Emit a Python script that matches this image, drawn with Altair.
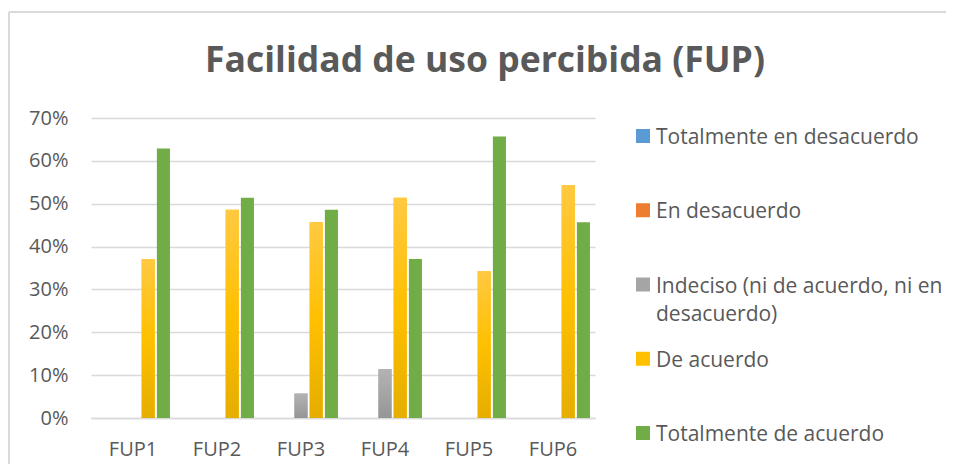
import altair as alt
import pandas as pd

categories = ["FUP1", "FUP2", "FUP3", "FUP4", "FUP5", "FUP6"]
series = [
    "Totalmente en desacuerdo",
    "En desacuerdo",
    "Indeciso (ni de acuerdo, ni en desacuerdo)",
    "De acuerdo",
    "Totalmente de acuerdo",
]
legend_labels = [
    "Totalmente en desacuerdo",
    "En desacuerdo",
    "Indeciso (ni de acuerdo, ni en\ndesacuerdo)",
    "De acuerdo",
    "Totalmente de acuerdo",
]
totalmente_desacuerdo = [0, 0, 0, 0, 0, 0]
en_desacuerdo = [0, 0, 0, 0, 0, 0]
indeciso = [0, 0, 0.057, 0.114, 0, 0]
de_acuerdo = [0.371, 0.486, 0.457, 0.514, 0.343, 0.543]
totalmente_acuerdo = [0.629, 0.514, 0.486, 0.371, 0.657, 0.457]
colors = ["#5B9BD5", "#ED7D31", "#A5A5A5", "#FFC000", "#70AD47"]
y_ticks = [0, 0.1, 0.2, 0.3, 0.4, 0.5, 0.6, 0.7]

vals = [totalmente_desacuerdo, en_desacuerdo, indeciso, de_acuerdo, totalmente_acuerdo]
rows = []
for s, v in zip(series, vals):
    for c, x in zip(categories, v):
        rows.append({"cat": c, "serie": s, "valor": x})
df = pd.DataFrame(rows)
leg_df = pd.DataFrame({"serie": series, "label": legend_labels})

FONT = "Open Sans"
TXT = "#595959"
GRID = "#D9D9D9"

color_scale = alt.Scale(domain=series, range=colors)

x_enc = alt.X("cat:N", sort=categories, title=None,
              scale=alt.Scale(paddingInner=0.12, paddingOuter=0.06),
              axis=alt.Axis(labelAngle=0, labelFont=FONT, labelFontSize=20, labelColor=TXT,
                            ticks=False, domain=True, domainColor=GRID, domainWidth=1.5,
                            labelPadding=21, grid=False))
xo_enc = alt.XOffset("serie:N", sort=series, scale=alt.Scale(paddingInner=0.14))
y_enc = alt.Y("valor:Q", title=None,
              scale=alt.Scale(domain=[0, 0.7], nice=False),
              axis=alt.Axis(values=y_ticks, format=".0%", labelFont=FONT, labelFontSize=20,
                            labelColor=TXT, ticks=False, domain=False, gridColor=GRID,
                            gridWidth=1.5, labelPadding=23))

base = alt.Chart(df).mark_bar().encode(
    x=x_enc, xOffset=xo_enc, y=y_enc,
    color=alt.Color("serie:N", sort=series, scale=color_scale, legend=None),
)

def grad(top, mid, bottom):
    return alt.LinearGradient(gradient="linear", x1=0, y1=0, x2=0, y2=1,
                              stops=[alt.GradientStop(color=top, offset=0),
                                     alt.GradientStop(color=mid, offset=0.5),
                                     alt.GradientStop(color=bottom, offset=1)])

yellow = alt.Chart(df).transform_filter(alt.datum.serie == series[3]).mark_bar(
    color=grad("#FFC942", "#FFC000", "#E5AD00")).encode(x=x_enc, xOffset=xo_enc, y=y_enc)
gray = alt.Chart(df).transform_filter(alt.datum.serie == series[2]).mark_bar(
    color=grad("#B3B3B3", "#A5A5A5", "#959595")).encode(x=x_enc, xOffset=xo_enc, y=y_enc)

bars = alt.layer(base, gray, yellow)

leg_y = alt.Y("serie:N", sort=series, axis=None,
              scale=alt.Scale(type="point", domain=series, range=[18, 315], padding=0))
leg_sq = alt.Chart(leg_df).mark_square(size=196, opacity=1).encode(
    x=alt.value(552), y=leg_y,
    color=alt.Color("serie:N", sort=series, scale=color_scale, legend=None))
leg_tx = alt.Chart(leg_df).mark_text(align="left", baseline="top", dy=-9, lineBreak="\n",
                                     lineHeight=28, font=FONT, fontSize=21, color=TXT).encode(
    x=alt.value(565), y=leg_y, text="label:N")
legend = alt.layer(leg_sq, leg_tx)

frame_top = alt.Chart(df).mark_rule(color=GRID, strokeWidth=1.5).encode(
    x=alt.value(-82), x2=alt.value(900), y=alt.value(-106))
frame_left = alt.Chart(df).mark_rule(color=GRID, strokeWidth=1.5).encode(
    x=alt.value(-82), y=alt.value(-106), y2=alt.value(400))

chart = alt.layer(bars, legend, frame_top, frame_left).resolve_scale(y="independent").properties(
    width=504, height=300,
    autosize=alt.AutoSizeParams(type="none"),
    padding={"left": 83, "top": 110, "right": 351, "bottom": 46},
    title=alt.TitleParams("Facilidad de uso percibida (FUP)", font=FONT, fontSize=35.5,
                          fontWeight="bold", color=TXT, anchor="middle", frame="group",
                          baseline="alphabetic", dx=142, dy=96, offset=0),
).configure_view(stroke=None)

chart.save("out.html", embed_options={"renderer": "svg", "actions": False})
